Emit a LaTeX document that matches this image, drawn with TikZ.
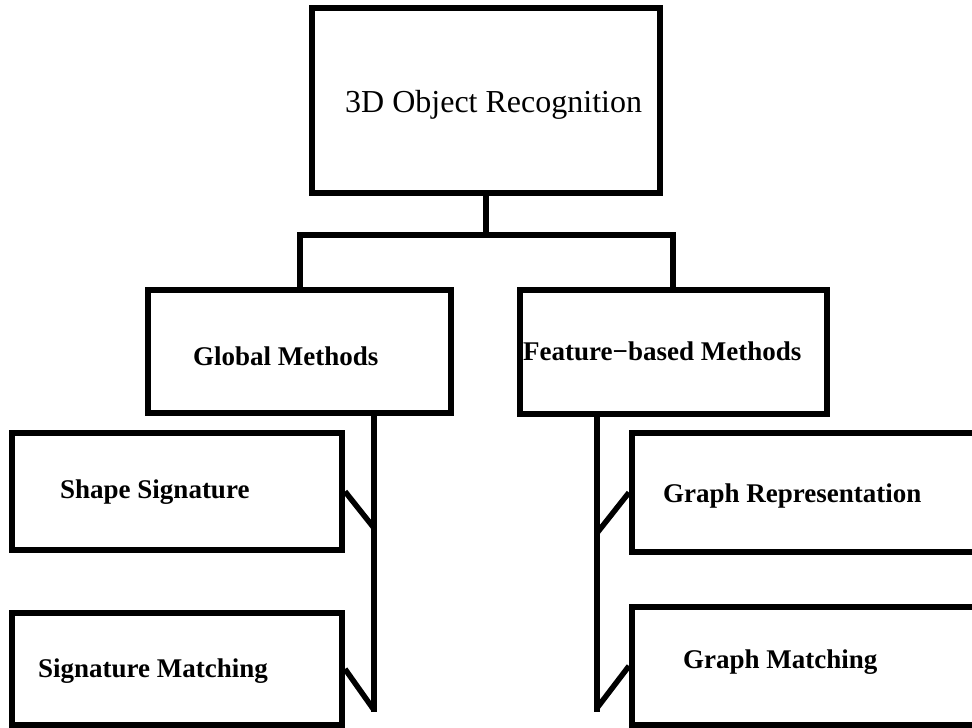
\documentclass[tikz,border=0pt]{standalone}
\usepackage{fontspec}
\setmainfont{Liberation Serif}
\begin{document}
\begin{tikzpicture}[x=1pt,y=-1pt,
  box/.style={draw=black,line width=6pt,rectangle,inner sep=0pt,line join=miter},
  conn/.style={draw=black,line width=5.5pt,line join=miter},
  lbl/.style={inner sep=0pt,anchor=base west,font=\fontsize{27}{30}\selectfont\bfseries},
  toplbl/.style={inner sep=0pt,anchor=base west,font=\fontsize{32}{36}\selectfont}]
\useasboundingbox (0,0) rectangle (972,728);
\clip (0,0) rectangle (972,728);
% boxes
\node[box,minimum width=348pt,minimum height=185pt] (top) at (486,100.5) {};
\node[box,minimum width=303pt,minimum height=123pt] (gl) at (299.5,351.5) {};
\node[box,minimum width=307pt,minimum height=124pt] (fb) at (673.5,352) {};
\node[box,minimum width=330pt,minimum height=117pt] (ss) at (177,491.5) {};
\node[box,minimum width=330pt,minimum height=112pt] (sm) at (177,669) {};
\node[box,minimum width=380pt,minimum height=119pt] (gr) at (822,492.5) {};
\node[box,minimum width=380pt,minimum height=118pt] (gm) at (822,666) {};
% labels
\node[toplbl] (tTop) at (345,112) {3D Object Recognition};
\node[lbl] (tGl) at (193,365) {Global Methods};
\node[lbl] (tFb) at (523,360) {Feature−based Methods};
\node[lbl] (tSs) at (60,498) {Shape Signature};
\node[lbl] (tSm) at (38,677) {Signature Matching};
\node[lbl] (tGr) at (663,502) {Graph Representation};
\node[lbl] (tGm) at (683,668) {Graph Matching};
% tree connectors
\coordinate (bl) at (300,235);
\coordinate (br) at (673,235);
\draw[conn] (top.south) -- (top.south |- bl);
\draw[conn] (bl |- gl.north) -- (bl) -- (br) -- (br |- fb.north);
% left trunk
\coordinate (lt) at (374,412);
\coordinate (lb) at (374,712);
\coordinate (lj1) at (374,528);
\coordinate (lj2) at (374,710);
\draw[conn] (lt) -- (lb);
\draw[conn] (ss.east) -- (lj1);
\draw[conn] (sm.east) -- (lj2);
% right trunk
\coordinate (rt) at (597,413);
\coordinate (rb) at (597,712);
\coordinate (rj1) at (597,533);
\coordinate (rj2) at (597,708);
\draw[conn] (rt) -- (rb);
\draw[conn] (gr.west) -- (rj1);
\draw[conn] (gm.west) -- (rj2);
\end{tikzpicture}
\end{document}
